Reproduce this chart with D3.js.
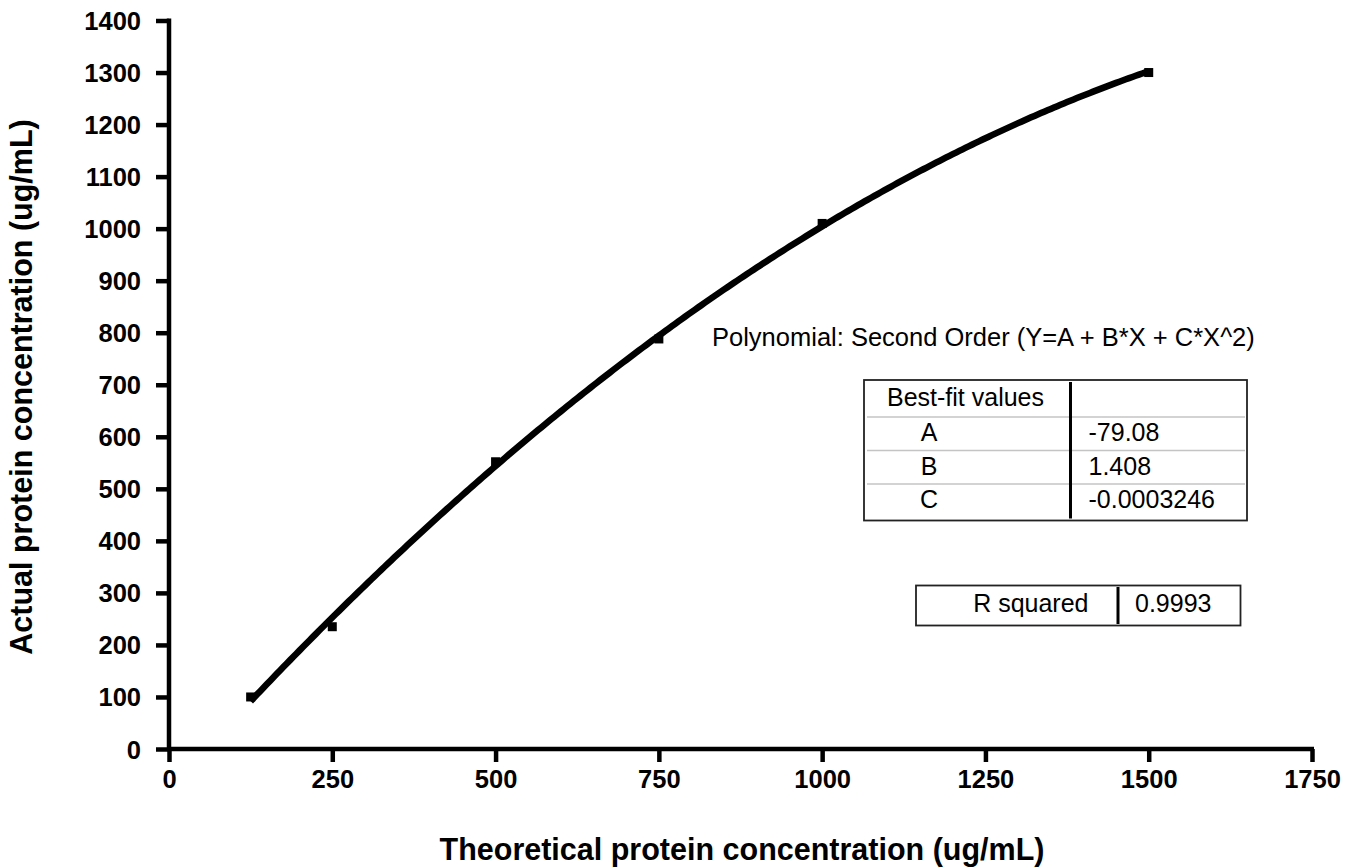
<!DOCTYPE html>
<html>
<head>
<meta charset="utf-8">
<script src="https://cdn.jsdelivr.net/npm/d3@7"></script>
<style>
  html, body { margin: 0; padding: 0; background: #fff; }
  svg { display: block; }
  text { font-family: "Liberation Sans", Arial, Helvetica, sans-serif; fill: #000; }
</style>
</head>
<body>
<svg id="chart" width="1352" height="867"></svg>
<script>
// ---- Data ----
const theoretical = [125, 250, 500, 750, 1000, 1500];
const actual = [100, 235, 552, 788, 1010, 1300];
const xTickValues = [0, 250, 500, 750, 1000, 1250, 1500, 1750];
const yTickValues = [0, 100, 200, 300, 400, 500, 600, 700, 800, 900, 1000, 1100, 1200, 1300, 1400];
const fitNames = ["A", "B", "C"];
const fitValues = [-79.08, 1.408, -0.0003246];
const fitLabels = ["-79.08", "1.408", "-0.0003246"];
const rSquaredLabel = "R squared";
const rSquaredValue = "0.9993";
const xTitle = "Theoretical protein concentration (ug/mL)";
const yTitle = "Actual protein concentration (ug/mL)";
const fitTitle = "Polynomial: Second Order (Y=A + B*X + C*X^2)";
const tableHeader = "Best-fit values";

// ---- Layout ----
const svg = d3.select("#chart");
const x = d3.scaleLinear().domain([0, 1750]).range([169, 1312]);
const y = d3.scaleLinear().domain([0, 1400]).range([749, 20.5]);

function placeText(g, str, px, py, opts) {
  return g.append("text")
    .attr("transform", `translate(${px},${py})`)
    .attr("text-anchor", opts.anchor || "start")
    .style("font-size", opts.size + "px")
    .style("font-weight", opts.weight || "normal")
    .text(str);
}

// ---- Axes ----
const xAxis = d3.axisBottom(x).tickValues(xTickValues).tickSize(13).tickSizeOuter(0).tickFormat(d3.format("d"));
const yAxis = d3.axisLeft(y).tickValues(yTickValues).tickSize(13).tickSizeOuter(0).tickFormat(d3.format("d"));

const gx = svg.append("g").attr("transform", `translate(0,${y(0)})`).call(xAxis);
const gy = svg.append("g").attr("transform", `translate(${x(0)},0)`).call(yAxis);

[gx, gy].forEach(g => {
  g.select(".domain").attr("stroke", "#000").attr("stroke-width", 4.5);
  g.selectAll(".tick line").attr("stroke", "#000").attr("stroke-width", 4.5);
  g.selectAll(".tick text")
    .style("font-family", '"Liberation Sans", Arial, sans-serif')
    .style("font-size", "25.5px")
    .style("font-weight", "bold")
    .attr("fill", "#000");
});
gx.select(".domain").attr("d", `M${x(0) - 2},0H${x(1750) + 2}`);
gy.select(".domain").attr("d", `M0,${y(0) + 2}V${y(1400) - 2}`);

gx.selectAll(".tick text").attr("y", 0).attr("dy", 0)
  .attr("transform", "translate(0,39)");
gy.selectAll(".tick text").attr("x", 0).attr("dy", 0)
  .attr("text-anchor", "end")
  .attr("transform", "translate(-28,9)");

// ---- Axis titles ----
placeText(svg, xTitle, 742, 860, { size: 30.5, weight: "bold", anchor: "middle" });
svg.append("text")
  .attr("transform", "translate(32,387) rotate(-90)")
  .attr("text-anchor", "middle")
  .style("font-size", "30.5px").style("font-weight", "bold")
  .text(yTitle);

// ---- Data markers ----
const pts = theoretical.map((t, i) => ({ t, a: actual[i] }));
svg.append("g").selectAll("rect").data(pts).join("rect")
  .attr("x", d => x(d.t) - 4.5)
  .attr("y", d => y(d.a) - 4.5)
  .attr("width", 9).attr("height", 9)
  .attr("fill", "#000");

// ---- Fit curve from reported coefficients ----
const [A, B, C] = fitValues;
const xs = d3.range(theoretical[0], theoretical[theoretical.length - 1] + 0.001, 5);
const curve = xs.map(v => [v, A + B * v + C * v * v]);
svg.append("path")
  .datum(curve)
  .attr("fill", "none")
  .attr("stroke", "#000")
  .attr("stroke-width", 6.5)
  .attr("stroke-linecap", "butt")
  .attr("d", d3.line().x(d => x(d[0])).y(d => y(d[1])));

// ---- Fit annotation ----
placeText(svg, fitTitle, 712, 346, { size: 25.5 });

// ---- Best-fit table ----
const tb = svg.append("g");
const tL = 864, tR = 1247, tT = 380, tBt = 520.5, tDiv = 1070.5;
const rowLines = [417, 450.5, 484];
tb.selectAll("line.row").data(rowLines).join("line")
  .attr("x1", 867).attr("x2", 1245)
  .attr("y1", d => d).attr("y2", d => d)
  .attr("stroke", "#c4c4c4").attr("stroke-width", 1.5);
tb.append("rect").attr("x", tL).attr("y", tT).attr("width", tR - tL).attr("height", tBt - tT)
  .attr("fill", "none").attr("stroke", "#222").attr("stroke-width", 1.8);
tb.append("line").attr("x1", tDiv).attr("x2", tDiv).attr("y1", tT + 2).attr("y2", tBt - 2)
  .attr("stroke", "#000").attr("stroke-width", 3);
placeText(tb, tableHeader, 887, 406, { size: 25 });
const rowBase = [441, 474.5, 508];
fitNames.forEach((n, i) => {
  placeText(tb, n, 929, rowBase[i], { size: 25, anchor: "middle" });
  placeText(tb, fitLabels[i], 1088.5, rowBase[i], { size: 25 });
});

// ---- R squared box ----
const rb = svg.append("g");
rb.append("rect").attr("x", 916).attr("y", 585.5).attr("width", 324.5).attr("height", 40)
  .attr("fill", "none").attr("stroke", "#222").attr("stroke-width", 1.8);
rb.append("line").attr("x1", 1118).attr("x2", 1118).attr("y1", 587).attr("y2", 624)
  .attr("stroke", "#000").attr("stroke-width", 3);
placeText(rb, rSquaredLabel, 1088.5, 612, { size: 25, anchor: "end" });
placeText(rb, rSquaredValue, 1135, 612, { size: 25 });
</script>
</body>
</html>
